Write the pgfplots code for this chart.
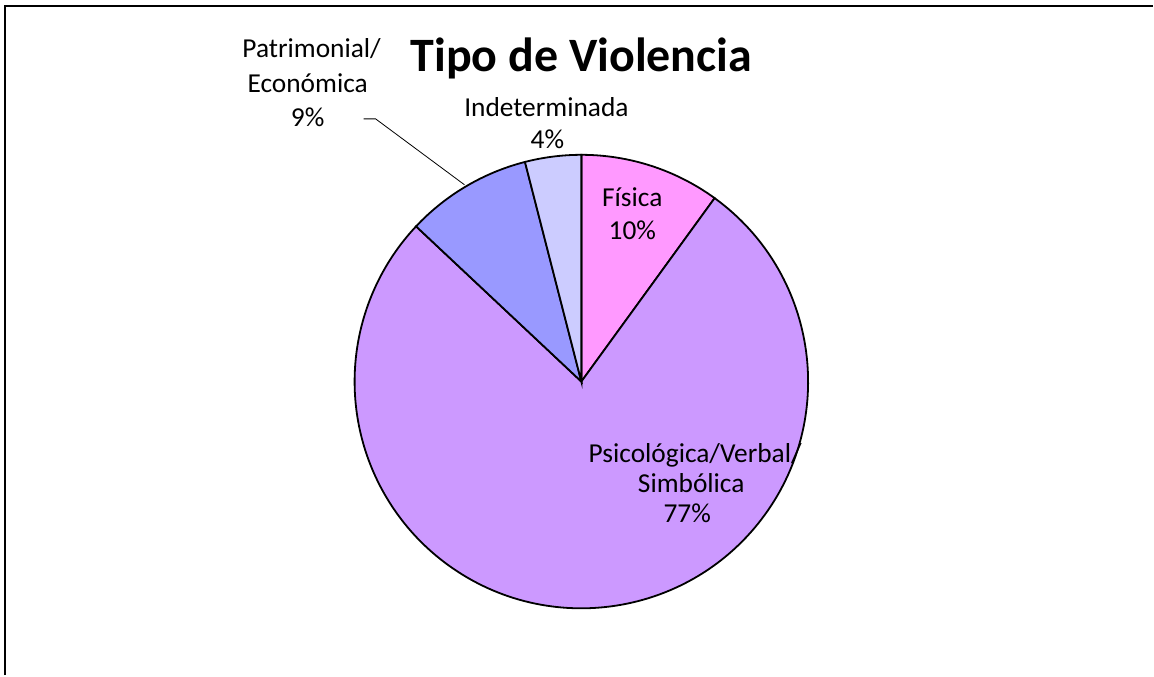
\documentclass[border=0pt]{standalone}
\usepackage{pgfplots}
\pgfplotsset{compat=1.18}
\usepackage{fontspec}
\setmainfont{Carlito}
\definecolor{cFis}{HTML}{FF99FF}
\definecolor{cPsi}{HTML}{CC99FF}
\definecolor{cPat}{HTML}{9999FF}
\definecolor{cInd}{HTML}{CCCCFF}
\begin{document}
\begin{tikzpicture}
% data (percent)
\def\vA{10}% Fisica
\def\vB{77}% Psicologica/Verbal/Simbolica
\def\vC{9}%  Patrimonial/Economica
\def\vD{4}%  Indeterminada
\pgfmathsetmacro\aA{90}
\pgfmathsetmacro\aB{\aA-3.6*\vA}
\pgfmathsetmacro\aC{\aB-3.6*\vB}
\pgfmathsetmacro\aD{\aC-3.6*\vC}
\pgfmathsetmacro\aE{\aD-3.6*\vD}
\def\pieR{113.5pt}
\begin{axis}[scale only axis, width=577pt, height=338pt,
  xmin=0, xmax=1154, ymin=0, ymax=676, enlargelimits=false,
  axis lines=none, clip=false]
\addplot[draw=none, forget plot] coordinates {(0,0) (1154,676)};
\filldraw[fill=cFis, draw=black, line width=0.9pt] (axis cs:582,294) -- ++(\aA:\pieR) arc[start angle=\aA, end angle=\aB, radius=\pieR] -- cycle;
\filldraw[fill=cPsi, draw=black, line width=0.9pt] (axis cs:582,294) -- ++(\aB:\pieR) arc[start angle=\aB, end angle=\aC, radius=\pieR] -- cycle;
\filldraw[fill=cPat, draw=black, line width=0.9pt] (axis cs:582,294) -- ++(\aC:\pieR) arc[start angle=\aC, end angle=\aD, radius=\pieR] -- cycle;
\filldraw[fill=cInd, draw=black, line width=0.9pt] (axis cs:582,294) -- ++(\aD:\pieR) arc[start angle=\aD, end angle=\aE, radius=\pieR] -- cycle;
% frame
\draw[line width=1.3pt] (axis cs:5,0) -- (axis cs:5,670) -- (axis cs:1154,670);
% leader line
\draw[line width=0.4pt] (axis cs:364,557) -- (axis cs:376,557) -- (axis cs:465,491);
% title
\node[anchor=base, inner sep=0pt, font=\fontsize{24pt}{29pt}\selectfont\bfseries] at (axis cs:582,604) {Tipo de Violencia};
% labels
\begin{scope}[every node/.style={anchor=base, inner sep=0pt, font=\fontsize{13.7pt}{16pt}\selectfont}]
\node at (axis cs:312,618) {Patrimonial/};
\node at (axis cs:308,583) {Económica};
\node at (axis cs:308,549) {9\%};
\node at (axis cs:547,559) {Indeterminada};
\node at (axis cs:548,527) {4\%};
\node at (axis cs:633,469) {Física};
\node at (axis cs:633,436) {10\%};
\node at (axis cs:696,213) {Psicológica/Verbal/};
\node at (axis cs:692,183) {Simbólica};
\node at (axis cs:688,153) {77\%};
\end{scope}
\end{axis}
\end{tikzpicture}
\end{document}
